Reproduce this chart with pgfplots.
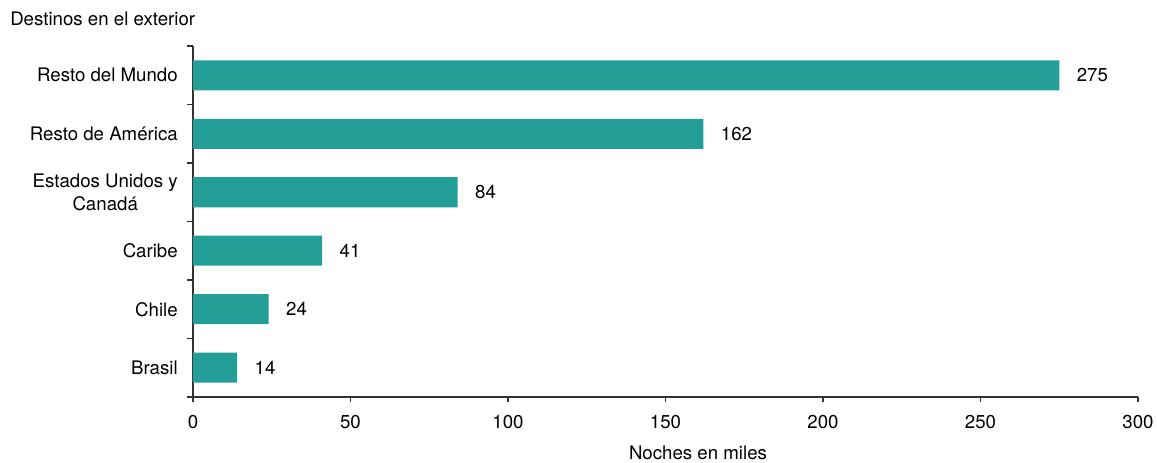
\documentclass[border=0pt]{standalone}
\usepackage{pgfplots}
\pgfplotsset{compat=1.18}
\usepackage{fontspec}
\setmainfont{TeX Gyre Heros}
\definecolor{barcol}{HTML}{239F97}
\definecolor{axcol}{HTML}{333333}
\begin{document}
\fontsize{14}{17}\selectfont
\begin{tikzpicture}
\path[use as bounding box] (-144.75pt,-49.5pt) rectangle (723pt,297.75pt);
\begin{axis}[
  at={(0pt,0pt)}, anchor=south west,
  scale only axis, width=708.75pt, height=263.25pt,
  xbar, bar width=22.5pt, bar shift=0pt,
  xmin=0, xmax=300, ymin=-0.5, ymax=5.5,
  axis x line*=bottom, axis y line*=left,
  axis line style={axcol, line width=0.8pt},
  /pgf/number format/assume math mode=true,
  xtick={0,50,...,300},
  ytick={0,...,5},
  yticklabels={Brasil,Chile,Caribe,{Estados Unidos y\\Canadá},Resto de América,Resto del Mundo},
  minor ytick={-0.5,0.5,...,5.5},
  tick align=outside,
  major tick length=3.75pt,
  minor tick length=4.5pt,
  major y tick style={draw=none},
  minor y tick style={axcol, line width=0.8pt},
  major x tick style={axcol, line width=0.8pt},
  y tick label style={align=center, inner sep=0pt, xshift=-7.5pt, font=\fontsize{14}{17}\selectfont},
  x tick label style={inner sep=0pt, yshift=-9.75pt, font=\fontsize{14}{17}\selectfont},
  xlabel={Noches en miles},
  xlabel style={at={(axis description cs:0.5344,0)}, anchor=center, yshift=-42pt, font=\fontsize{14}{17}\selectfont},
  nodes near coords={\pgfmathprintnumber[assume math mode=true]{\pgfplotspointmeta}},
  point meta=x,
  nodes near coords style={anchor=west, inner sep=0pt, xshift=13pt, text=black, font=\fontsize{14}{17}\selectfont},
  clip=false,
]
\addplot[fill=barcol, draw=none] coordinates {(14,0) (24,1) (41,2) (84,3) (162,4) (275,5)};
\end{axis}
\node[anchor=west, inner sep=0pt] at (-137.25pt,283.5pt) {Destinos en el exterior};
\end{tikzpicture}
\end{document}
